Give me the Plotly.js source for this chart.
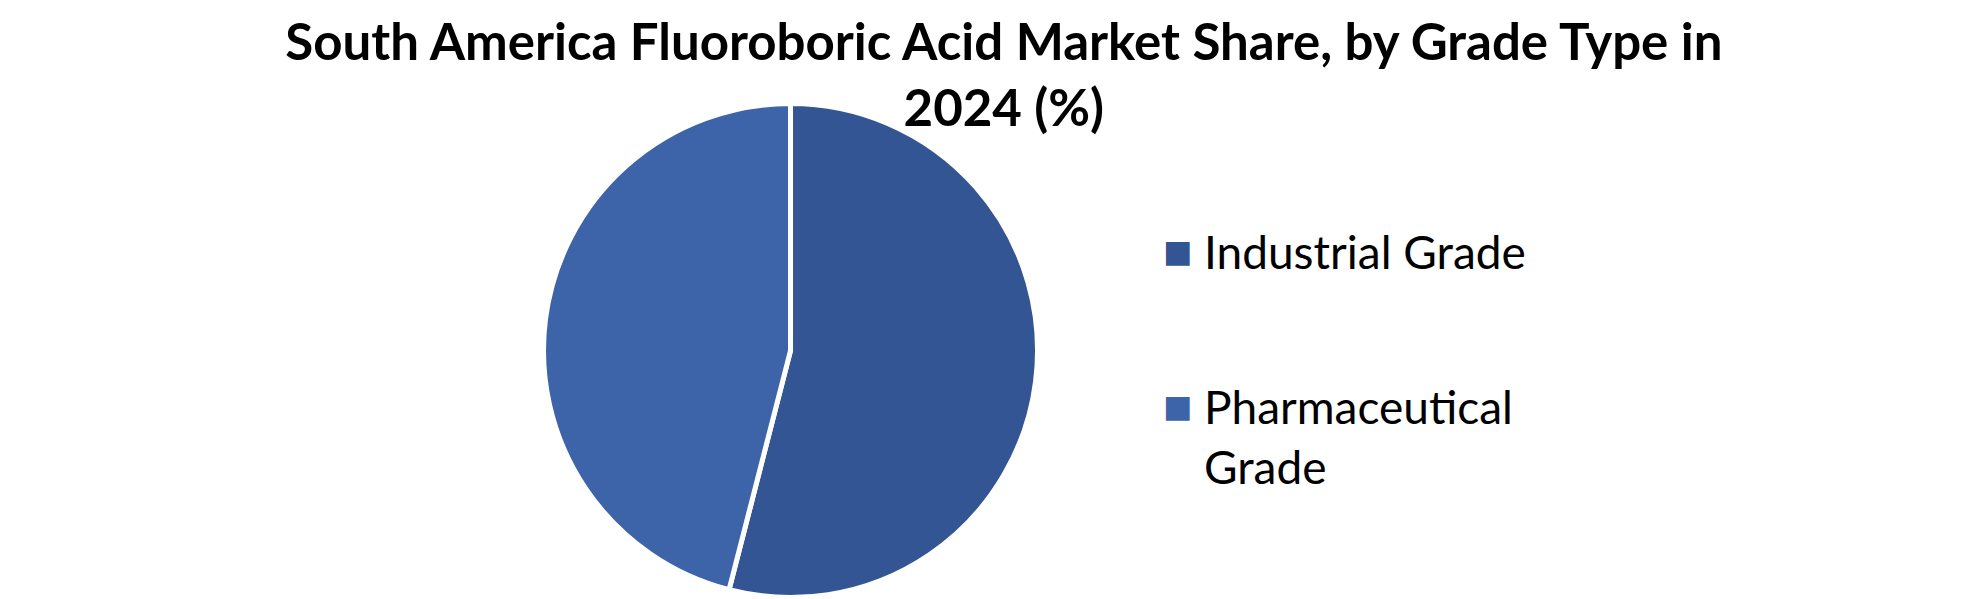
<!DOCTYPE html>
<html>
<head>
<meta charset="utf-8">
<script src="https://cdn.plot.ly/plotly-3.0.1.min.js"></script>
<style>
  body { margin: 0; background: #fff; }
  #chart { width: 1980px; height: 599px; }
</style>
</head>
<body>
<div id="chart"></div>
<script>
// market share by grade type, 2024 (%)
let grades = ["Industrial Grade", "Pharmaceutical Grade"];
let shares = [54, 46];
let sliceColors = ["#335593", "#3d64a9"];

let W = 1980, H = 599;

let pieData = [{
    type: "pie",
    labels: grades,
    values: shares,
    sort: false,
    direction: "clockwise",
    rotation: 0,
    textinfo: "none",
    hoverinfo: "label+percent",
    marker: {
        colors: sliceColors,
        line: { color: "#ffffff", width: 5 }
    },
    domain: { x: [0.2745, 0.524], y: [0.0025, 0.8272] }
}];

// legend drawn as annotations: big square + label, long names wrap after the first word
let legendNotes = [];
let rowY = 251;      // px from top, first row
let rowGap = 155;    // px between rows
let lineGap = 61;    // px between wrapped lines
grades.forEach(function (name, i) {
    let y = rowY + i * rowGap;
    let words = name.split(" ");
    let text = name.length > 18 ? words.slice(0, -1).join(" ") + "<br>" + words[words.length - 1] : name;
    let lines = text.split("<br>").length;
    legendNotes.push({
        xref: "paper", yref: "paper",
        x: 1177.5 / W, y: 1 - y / H,
        xanchor: "center", yanchor: "middle",
        text: "■", showarrow: false,
        font: { family: "DejaVu Sans", size: 31, color: sliceColors[i] }
    });
    legendNotes.push({
        xref: "paper", yref: "paper",
        x: 1202 / W, y: 1 - (y + (lines - 1) * lineGap / 2) / H,
        xanchor: "left", yanchor: "middle", align: "left",
        text: text, showarrow: false,
        font: { family: "Lato", size: 46, color: "#000000" }
    });
});

let pieLayout = {
    width: W,
    height: H,
    margin: { l: 0, r: 0, t: 0, b: 0 },
    paper_bgcolor: "#ffffff",
    title: {
        text: "South America Fluoroboric Acid Market Share, by Grade Type in<br>2024 (%)",
        font: { family: "Lato", size: 51, color: "#000000", weight: "bold" },
        x: 0.507,
        xanchor: "center",
        y: 0.9,
        yanchor: "top",
        yref: "container"
    },
    showlegend: false,
    annotations: legendNotes
};

Plotly.newPlot("chart", pieData, pieLayout, { displayModeBar: false });
</script>
</body>
</html>
